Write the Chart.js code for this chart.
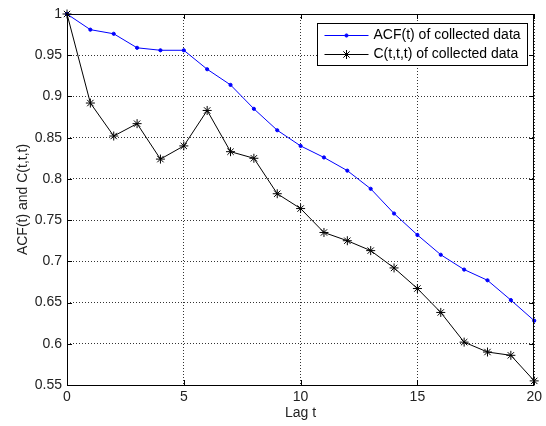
<!DOCTYPE html>
<html>
<head>
<meta charset="utf-8">
<script src="https://cdn.jsdelivr.net/npm/chart.js@4"></script>
<style>
  body { margin: 0; background: #fff; }
  canvas { display: block; }
</style>
</head>
<body>
<canvas id="acfChart" width="546" height="426"></canvas>
<script>
// lags and values
const lags = [0, 1, 2, 3, 4, 5, 6, 7, 8, 9, 10, 11, 12, 13, 14, 15, 16, 17, 18, 19, 20];
const acfValues = [1.0, 0.981, 0.976, 0.959, 0.956, 0.956, 0.933, 0.914, 0.885, 0.859, 0.840,
                   0.826, 0.810, 0.788, 0.758, 0.732, 0.708, 0.690, 0.677, 0.653, 0.628];
const cttValues = [1.0, 0.892, 0.852, 0.867, 0.824, 0.840, 0.883, 0.833, 0.825, 0.782, 0.764,
                   0.735, 0.725, 0.713, 0.692, 0.667, 0.638, 0.602, 0.590, 0.586, 0.555];
const xTicks = [0, 5, 10, 15, 20];
const yTicks = [0.55, 0.6, 0.65, 0.7, 0.75, 0.8, 0.85, 0.9, 0.95, 1];
const seriesNames = ['ACF(t) of collected data', 'C(t,t,t) of collected data'];

const FONT = { family: 'Arial, "Liberation Sans", sans-serif', size: 14 };

// box around the axes plus inward tick marks (matlab style)
const boxPlugin = {
    id: 'matlabBox',
    afterDatasetsDraw(chart) {
        const { ctx, chartArea: a, scales } = chart;
        ctx.save();
        ctx.strokeStyle = '#000';
        ctx.lineWidth = 1;
        ctx.strokeRect(Math.round(a.left) + 0.5, Math.round(a.top) + 0.5,
                       Math.round(a.right - a.left) - 1, Math.round(a.bottom - a.top));
        const len = 5;
        ctx.beginPath();
        scales.x.ticks.forEach(t => {
            const px = Math.round(scales.x.getPixelForValue(t.value)) + 0.5;
            ctx.moveTo(px, a.bottom); ctx.lineTo(px, a.bottom - len);
            ctx.moveTo(px, a.top); ctx.lineTo(px, a.top + len);
        });
        scales.y.ticks.forEach(t => {
            const py = Math.round(scales.y.getPixelForValue(t.value)) + 0.5;
            ctx.moveTo(a.left, py); ctx.lineTo(a.left + len, py);
            ctx.moveTo(a.right, py); ctx.lineTo(a.right - len, py);
        });
        ctx.stroke();
        ctx.restore();
    },
    afterDraw(chart) {
        // legend box in the upper right corner
        const { ctx, chartArea: a } = chart;
        const boxW = 210, boxH = 42;
        const bx = Math.round(a.right - 7 - boxW) + 0.5;
        const by = Math.round(a.top + 9) + 0.5;
        ctx.save();
        ctx.fillStyle = '#fff';
        ctx.fillRect(bx, by, boxW, boxH);
        ctx.strokeStyle = '#000';
        ctx.lineWidth = 1;
        ctx.strokeRect(bx, by, boxW, boxH);
        ctx.font = FONT.size + 'px ' + FONT.family;
        ctx.textBaseline = 'middle';
        chart.data.datasets.forEach((ds, i) => {
            const y = Math.round(by + 11 + i * 19) + 0.5;
            const x0 = bx + 7, x1 = bx + 51, xm = (x0 + x1) / 2;
            ctx.strokeStyle = ds.borderColor;
            ctx.lineWidth = 1;
            ctx.beginPath();
            ctx.moveTo(x0, y); ctx.lineTo(x1, y);
            ctx.stroke();
            Chart.helpers.drawPoint(ctx, {
                pointStyle: ds.pointStyle,
                radius: ds.pointRadius,
                borderWidth: 1
            }, xm, y);
            if (ds.pointStyle === 'circle') {
                ctx.fillStyle = ds.pointBackgroundColor;
                ctx.beginPath(); ctx.arc(xm, y, ds.pointRadius, 0, Math.PI * 2); ctx.fill();
            }
            ctx.fillStyle = '#000';
            ctx.fillText(ds.label, bx + 56, y);
        });
        ctx.restore();
    }
};

const ctx = document.getElementById('acfChart').getContext('2d');
new Chart(ctx, {
    type: 'line',
    data: {
        datasets: [{
            label: seriesNames[0],
            data: lags.map((l, i) => ({ x: l, y: acfValues[i] })),
            borderColor: '#0000ff',
            backgroundColor: '#0000ff',
            pointBackgroundColor: '#0000ff',
            pointBorderColor: '#0000ff',
            pointStyle: 'circle',
            pointRadius: 1.6,
            borderWidth: 1,
            tension: 0,
            clip: false,
            order: 2
        }, {
            label: seriesNames[1],
            data: lags.map((l, i) => ({ x: l, y: cttValues[i] })),
            borderColor: '#000000',
            backgroundColor: '#000000',
            pointBorderColor: '#000000',
            pointStyle: 'star',
            pointRadius: 4.5,
            pointBorderWidth: 1,
            borderWidth: 1,
            tension: 0,
            clip: false,
            order: 1
        }]
    },
    options: {
        responsive: false,
        animation: false,
        layout: { padding: { top: 14, right: 8, left: 0, bottom: 0 } },
        plugins: {
            legend: { display: false },
            tooltip: { enabled: false }
        },
        scales: {
            x: {
                type: 'linear',
                min: 0,
                max: 20,
                afterBuildTicks: s => { s.ticks = xTicks.map(v => ({ value: v })); },
                afterFit: s => { s.height = 41; },
                grid: { color: '#333', lineWidth: 1, drawTicks: false, tickLength: 0 },
                border: { display: false, dash: [1, 2] },
                ticks: { color: '#222', font: FONT, padding: 4, maxRotation: 0,
                         callback: v => String(v) },
                title: { display: true, text: 'Lag t', color: '#222', font: FONT,
                         padding: { top: 0, bottom: 4 } }
            },
            y: {
                min: 0.55,
                max: 1,
                afterBuildTicks: s => { s.ticks = yTicks.map(v => ({ value: v })); },
                afterFit: s => { s.width = 67; },
                grid: { color: '#333', lineWidth: 1, drawTicks: false, tickLength: 0 },
                border: { display: false, dash: [1, 2] },
                ticks: { color: '#222', font: FONT, padding: 5,
                         callback: v => String(Number(v.toFixed(2))) },
                title: { display: true, text: 'ACF(t) and C(t,t,t)', color: '#222', font: FONT,
                         padding: { top: 15, bottom: 0 } }
            }
        }
    },
    plugins: [boxPlugin]
});
</script>
</body>
</html>
